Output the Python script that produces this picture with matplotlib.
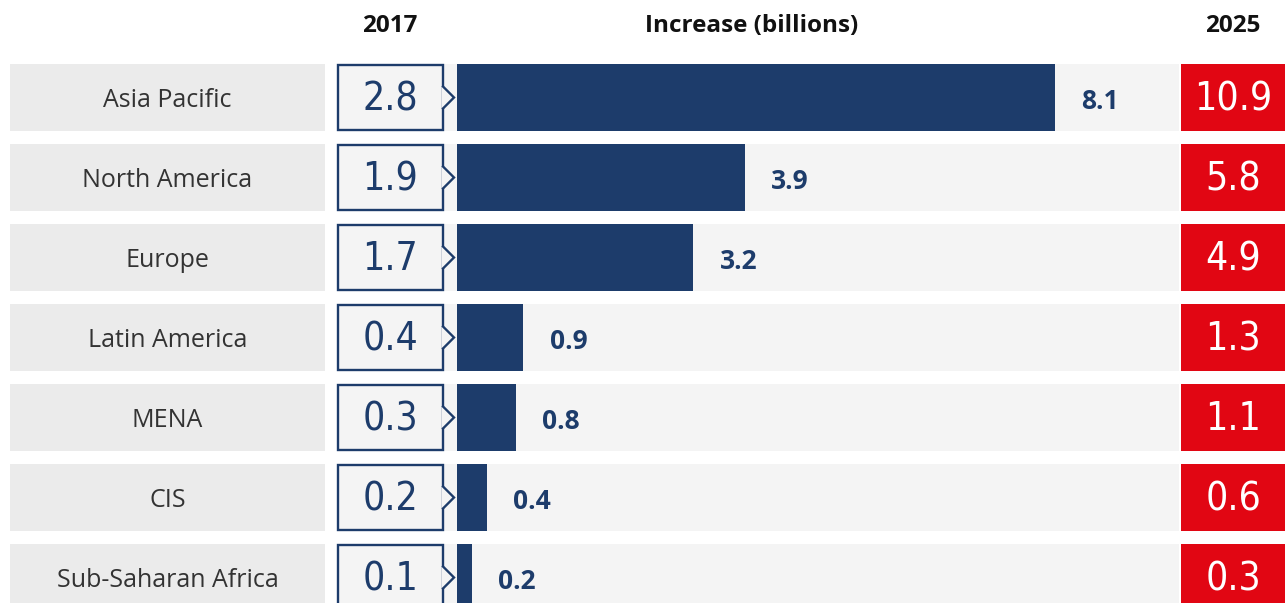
import matplotlib
matplotlib.use("Agg")
import matplotlib.pyplot as plt
from matplotlib.patches import Rectangle, Polygon
from matplotlib.lines import Line2D

# ---- data ----
regions = ["Asia Pacific", "North America", "Europe", "Latin America",
           "MENA", "CIS", "Sub-Saharan Africa"]
values_2017 = [2.8, 1.9, 1.7, 0.4, 0.3, 0.2, 0.1]
increase = [8.1, 3.9, 3.2, 0.9, 0.8, 0.4, 0.2]
values_2025 = [10.9, 5.8, 4.9, 1.3, 1.1, 0.6, 0.3]
headers = ["2017", "Increase (billions)", "2025"]

# ---- style ----
NAVY = "#1d3c6b"
RED = "#e10613"
LABEL_BG = "#ebebeb"
STRIP_BG = "#f4f4f4"
TEXT = "#333333"
NUM_FONT = dict(family=["DejaVu Sans"], fontstretch="condensed", fontweight="light")

W, H = 1285, 603
fig = plt.figure(figsize=(W / 100, H / 100), dpi=100)
fig.patch.set_facecolor("white")

# background layer in pixel coordinates
bg = fig.add_axes([0, 0, 1, 1])
bg.set_xlim(0, W)
bg.set_ylim(H, 0)
bg.axis("off")

row0_top, row_step, row_h = 64, 80, 67
lab_x0, lab_x1 = 10, 325
box_x0, box_x1 = 337, 444
strip_x0, strip_x1 = 337, 1179
bar_x0 = 457
red_x0, red_x1 = 1181, 1285
px_per_unit = 73.83

for i, reg in enumerate(regions):
    top = row0_top + i * row_step
    cy = top + row_h / 2
    bg.add_patch(Rectangle((lab_x0, top), lab_x1 - lab_x0, row_h,
                           facecolor=LABEL_BG, edgecolor="none"))
    bg.add_patch(Rectangle((strip_x0, top), strip_x1 - strip_x0, row_h,
                           facecolor=STRIP_BG, edgecolor="none"))
    bg.add_patch(Rectangle((box_x0 + 1, top + 1), box_x1 - box_x0 - 2, row_h - 2,
                           facecolor=STRIP_BG, edgecolor=NAVY, linewidth=1.7))
    # chevron
    bg.add_patch(Polygon([(box_x1 - 2, cy - 11), (box_x1 + 10, cy), (box_x1 - 2, cy + 11)],
                         closed=True, facecolor=STRIP_BG, edgecolor="none", zorder=3))
    bg.add_line(Line2D([box_x1 - 1, box_x1 + 10, box_x1 - 1], [cy - 11, cy, cy + 11],
                       color=NAVY, linewidth=1.7, zorder=4, solid_joinstyle="miter"))
    bg.add_patch(Rectangle((red_x0, top), red_x1 - red_x0, row_h,
                           facecolor=RED, edgecolor="none"))
    bg.text((lab_x0 + lab_x1) / 2, cy + 3, reg, ha="center", va="center",
            fontsize=18, color=TEXT, family=["Open Sans", "DejaVu Sans"])
    bg.text((box_x0 + box_x1) / 2, cy + 2, f"{values_2017[i]:.1f}", ha="center",
            va="center", fontsize=28, color=NAVY, **NUM_FONT)
    bg.text((red_x0 + red_x1) / 2, cy + 2, f"{values_2025[i]:.1f}", ha="center",
            va="center", fontsize=28, color="white", **NUM_FONT)

# headers
hdr_x = [(box_x0 + box_x1) / 2 - 1, 752, (red_x0 + red_x1) / 2]
for x, h in zip(hdr_x, headers):
    bg.text(x, 26, h, ha="center", va="center", fontsize=17.5, fontweight="bold",
            color="#111111", family=["Open Sans", "DejaVu Sans"])

# bar axes: x in billions, y in row index
ax = fig.add_axes([bar_x0 / W, 0, (strip_x1 - bar_x0) / W, 1])
ax.set_xlim(0, (strip_x1 - bar_x0) / px_per_unit)
ax.set_ylim((H - row0_top - row_h / 2) / row_step,
            -(row0_top + row_h / 2) / row_step)
ax.axis("off")
ax.patch.set_alpha(0)
ypos = list(range(len(regions)))
ax.barh(ypos, increase, height=row_h / row_step, color=NAVY, left=0)
for y, v in zip(ypos, increase):
    ax.annotate(f"{v:.1f}", xy=(v, y), xytext=(19, -3), textcoords="offset points",
                ha="left", va="center", fontsize=19, fontweight="bold",
                color=NAVY, family=["Open Sans", "DejaVu Sans"])

fig.savefig("out.png", dpi=100)
